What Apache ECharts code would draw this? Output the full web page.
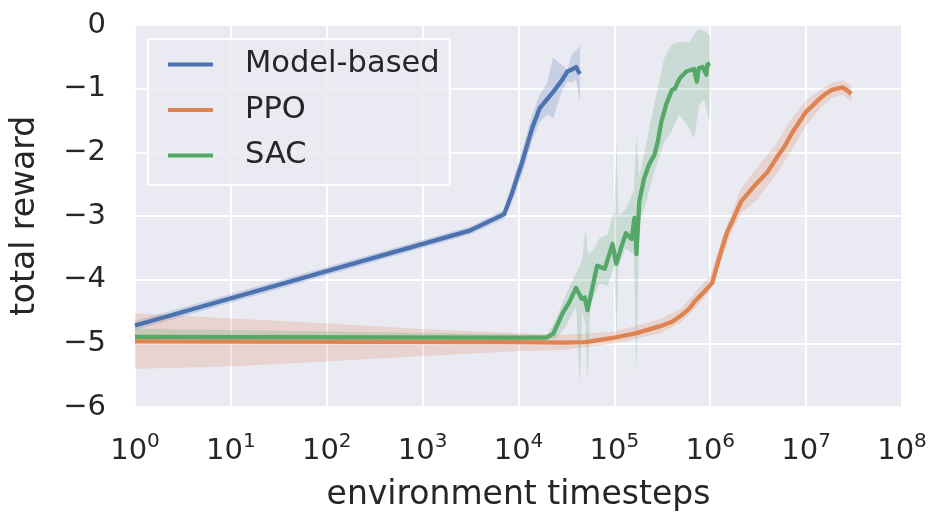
<!DOCTYPE html>
<html>
<head>
<meta charset="utf-8">
<script src="https://cdn.jsdelivr.net/npm/echarts@6/dist/echarts.min.js"></script>
<style>
  html, body { margin: 0; padding: 0; background: #ffffff; }
  #chart { width: 931px; height: 515px; }
</style>
</head>
<body>
<div id="chart"></div>
<script>
// x = environment timesteps (log scale), y = total reward
const seriesNames = ['Model-based', 'PPO', 'SAC'];
const yTicks = [-6, -5, -4, -3, -2, -1, 0];

// Model-based: mean line and band
const mbT = [1, 3100, 7100, 8700, 11000, 13800, 16600, 20000, 23000, 28000, 32400, 36000, 39800, 43600];
const mbMean = [-4.72, -3.23, -2.97, -2.61, -2.14, -1.63, -1.31, -1.16, -1.05, -0.88, -0.73, -0.70, -0.66, -0.77];
const mbHigh = [-4.65, -3.17, -2.90, -2.46, -1.96, -1.43, -1.10, -0.90, -0.52, -0.62, -0.70, -0.47, -0.40, -0.33];
const mbLow = [-4.79, -3.29, -3.04, -2.76, -2.32, -1.82, -1.52, -1.40, -1.47, -1.05, -0.88, -0.90, -0.86, -1.20];

// PPO
const ppoT = [1, 1e4, 3e4, 5e4, 1e5, 1.7e5, 3e5, 4e5, 5e5, 6e5, 7e5, 8.5e5, 1.05e6, 1.3e6, 1.5e6, 1.7e6, 2.1e6, 3e6, 4e6, 4.9e6, 6e6, 7.1e6, 8.5e6, 1e7, 1.2e7, 1.38e7, 1.6e7, 1.86e7, 2.1e7, 2.4e7, 2.7e7, 2.95e7];
const ppoMean = [-4.97, -4.98, -4.99, -4.98, -4.91, -4.84, -4.73, -4.66, -4.56, -4.46, -4.33, -4.20, -4.05, -3.55, -3.25, -3.08, -2.77, -2.50, -2.30, -2.09, -1.90, -1.70, -1.52, -1.36, -1.25, -1.16, -1.08, -1.02, -1.00, -0.98, -1.03, -1.08];
const ppoBandT = [1, 10, 100, 1000, 1e4, 3e4, 1e5, 3e5, 5e5, 7e5, 1e6, 1.3e6, 1.7e6, 2.1e6, 3e6, 4.9e6, 7.1e6, 1e7, 1.38e7, 1.86e7, 2.4e7, 2.95e7];
const ppoHigh = [-4.53, -4.61, -4.69, -4.78, -4.84, -4.87, -4.82, -4.62, -4.45, -4.20, -3.93, -3.40, -2.93, -2.57, -2.26, -1.86, -1.46, -1.18, -1.03, -0.91, -0.87, -0.96];
const ppoLow = [-5.40, -5.36, -5.28, -5.20, -5.12, -5.10, -5.00, -4.84, -4.67, -4.45, -4.17, -3.70, -3.22, -2.95, -2.76, -2.34, -1.96, -1.58, -1.32, -1.14, -1.09, -1.19];

// SAC
const sacT = [1, 1e4, 19500, 23000, 28800, 34000, 39800, 45700, 49000, 52500, 58900, 66100, 79400, 95500, 104700, 117500, 131800, 151400, 162200, 169800, 182000, 204200, 229000, 263000, 282000, 309000, 347000, 398000, 427000, 479000, 562000, 676000, 724000, 759000, 832000, 912000, 933000, 1000000];
const sacMean = [-4.90, -4.91, -4.91, -4.85, -4.53, -4.35, -4.13, -4.30, -4.28, -4.48, -4.13, -3.78, -3.83, -3.44, -3.75, -3.50, -3.27, -3.36, -3.03, -3.60, -2.77, -2.41, -2.20, -2.03, -1.85, -1.52, -1.25, -1.02, -1.00, -0.84, -0.73, -0.69, -0.89, -0.68, -0.66, -0.78, -0.62, -0.61];
const sacHighT = [1, 1e4, 20000, 25000, 32000, 40000, 46000, 50000, 53000, 60000, 70000, 85000, 100000, 104700, 110000, 130000, 160000, 170000, 180000, 205000, 261000, 331000, 393000, 475000, 603000, 676000, 767000, 866000, 977000, 1000000];
const sacHigh = [-4.77, -4.86, -4.87, -4.60, -4.20, -3.90, -3.70, -3.23, -3.60, -3.55, -3.35, -3.30, -2.90, -1.90, -3.00, -2.90, -2.60, -1.75, -2.40, -2.03, -1.25, -0.53, -0.31, -0.27, -0.27, -0.15, -0.06, -0.10, -0.15, -0.20];
const sacLowT = [1, 1e4, 20000, 25000, 32000, 40000, 43600, 46000, 50000, 52500, 56000, 70000, 85000, 100000, 104700, 110000, 130000, 160000, 170000, 180000, 205000, 261000, 331000, 393000, 475000, 603000, 676000, 767000, 866000, 977000, 1000000];
const sacLow = [-4.97, -4.95, -4.94, -4.92, -4.70, -4.40, -5.62, -4.50, -4.70, -5.53, -4.40, -4.05, -4.10, -3.75, -4.90, -3.80, -3.50, -3.60, -5.45, -3.10, -2.88, -2.30, -1.83, -1.67, -1.40, -1.62, -1.78, -1.25, -1.16, -1.52, -1.00];

const colors = { mb: '#4c72b0', ppo: '#dd8452', sac: '#55a868' };
const textColor = '#262626';
const font = 'DejaVu Sans';

function pairs(ts, vs) {
  return ts.map((t, i) => [t, vs[i]]);
}

function bandSeries(color, highT, high, lowT, low) {
  return {
    type: 'custom',
    silent: true,
    z: 2,
    renderItem: (params, api) => {
      const points = highT.map((t, i) => api.coord([t, high[i]]));
      for (let i = lowT.length - 1; i >= 0; i--) {
        points.push(api.coord([lowT[i], low[i]]));
      }
      return {
        type: 'polygon',
        shape: { points },
        style: { fill: color, opacity: 0.22, stroke: color, lineWidth: 0.6, strokeOpacity: 0.25 },
      };
    },
    data: [[highT[0], high[0]]],
  };
}

function lineSeries(name, color, ts, vs) {
  return {
    type: 'line',
    name,
    z: 3,
    showSymbol: false,
    symbol: 'none',
    lineStyle: { color, width: 4.3, join: 'round' },
    itemStyle: { color },
    data: pairs(ts, vs),
  };
}

const chart = echarts.init(document.getElementById('chart'), null, { renderer: 'canvas' });

chart.setOption({
  animation: false,
  backgroundColor: '#ffffff',
  textStyle: { fontFamily: font, color: textColor },
  grid: { left: 135, right: 29, top: 25, bottom: 108, outerBoundsMode: 'none', show: true, backgroundColor: '#eaeaf2', borderWidth: 0 },
  legend: {
    data: seriesNames,
    left: 148,
    top: 39,
    orient: 'vertical',
    icon: 'rect',
    itemWidth: 45,
    itemHeight: 4,
    itemGap: 14.5,
    padding: [10, 10, 14, 20],
    backgroundColor: 'rgba(234,234,242,0.85)',
    borderColor: '#ffffff',
    borderWidth: 2,
    borderRadius: 3,
    textStyle: { fontFamily: font, fontSize: 30.5, lineHeight: 30, color: textColor, padding: [0, 0, 0, 27] },
  },
  xAxis: {
    type: 'log',
    logBase: 10,
    min: 1,
    max: 1e8,
    interval: 1,
    name: 'environment timesteps',
    nameLocation: 'middle',
    nameGap: 72,
    nameTextStyle: { fontFamily: font, fontSize: 33, lineHeight: 33, color: textColor },
    axisLine: { show: false },
    axisTick: { show: false },
    splitLine: { show: true, lineStyle: { color: '#ffffff', width: 2 } },
    axisLabel: {
      margin: 25,
      formatter: (value) => '{b|10}{s|' + Math.round(Math.log10(value)) + '}',
      rich: {
        b: { fontFamily: font, fontSize: 29, lineHeight: 30, padding: [8, 0, 0, 0], color: textColor },
        s: { fontFamily: font, fontSize: 20, lineHeight: 20, verticalAlign: 'top', color: textColor },
      },
    },
  },
  yAxis: {
    type: 'value',
    min: yTicks[0],
    max: yTicks[yTicks.length - 1],
    interval: 1,
    name: 'total reward',
    nameLocation: 'middle',
    nameGap: 93,
    nameTextStyle: { fontFamily: font, fontSize: 33, lineHeight: 33, color: textColor },
    axisLine: { show: false },
    axisTick: { show: false },
    splitLine: { show: true, lineStyle: { color: '#ffffff', width: 2 } },
    axisLabel: {
      margin: 29,
      fontFamily: font,
      fontSize: 29,
      color: textColor,
      formatter: (value) => (value === 0 ? '0' : '\u2212' + Math.abs(value)),
    },
  },
  series: [
    bandSeries(colors.mb, mbT, mbHigh, mbT, mbLow),
    lineSeries(seriesNames[0], colors.mb, mbT, mbMean),
    bandSeries(colors.ppo, ppoBandT, ppoHigh, ppoBandT, ppoLow),
    lineSeries(seriesNames[1], colors.ppo, ppoT, ppoMean),
    bandSeries(colors.sac, sacHighT, sacHigh, sacLowT, sacLow),
    lineSeries(seriesNames[2], colors.sac, sacT, sacMean),
  ],
});
</script>
</body>
</html>
